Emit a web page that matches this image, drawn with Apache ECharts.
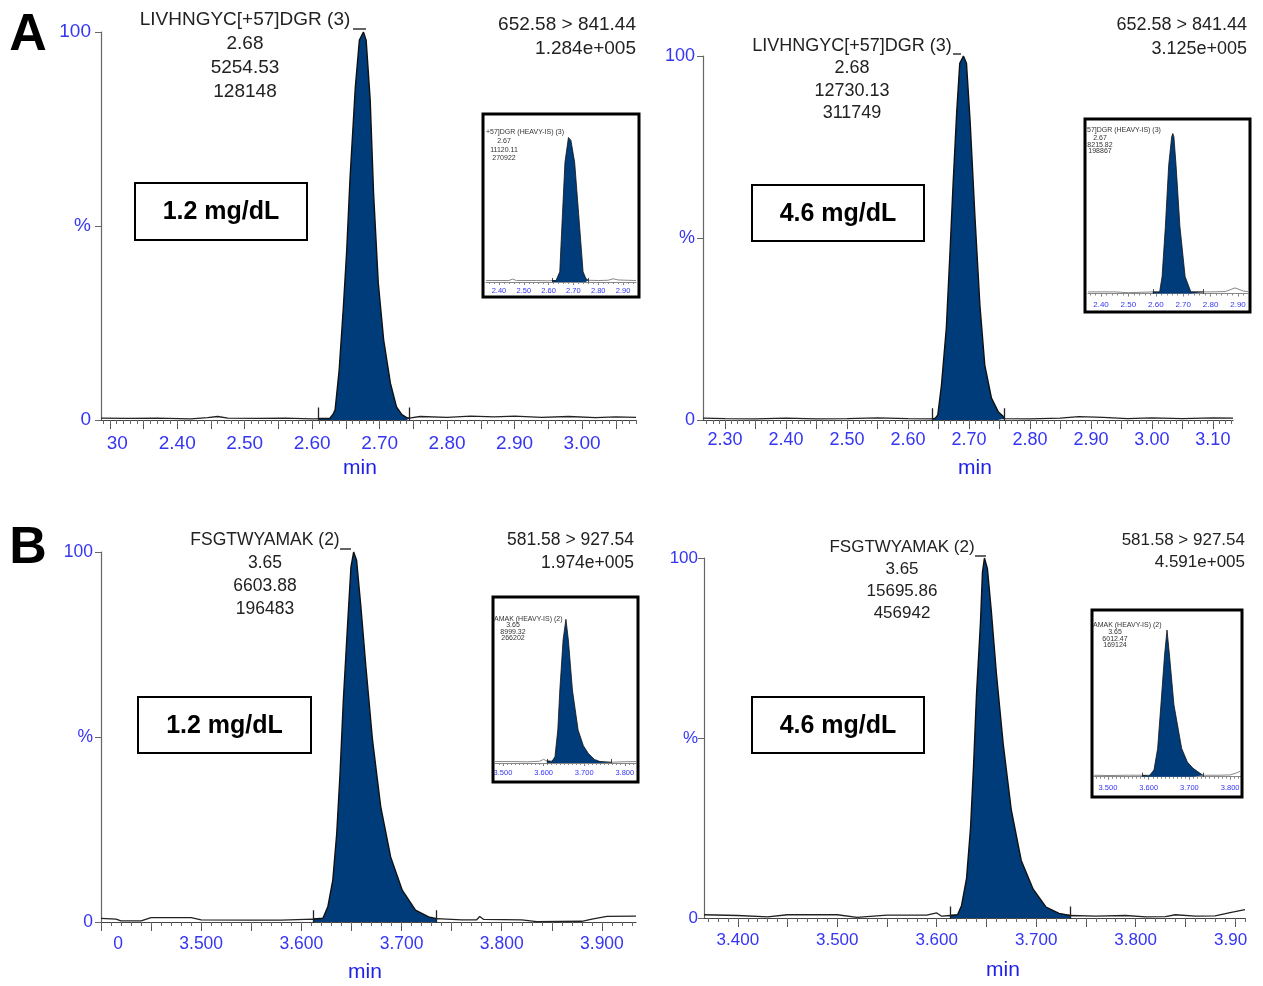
<!DOCTYPE html>
<html>
<head>
<meta charset="utf-8">
<title>MRM chromatograms</title>
<script src="https://cdn.jsdelivr.net/npm/echarts@6.0.0/dist/echarts.min.js"></script>
<style>
  html, body { margin: 0; padding: 0; background: #fff; }
  #main { width: 1263px; height: 986px; }
</style>
</head>
<body>
<div id="main"></div>
<script>
// retention time (min), relative intensity (%)
const peakA1 = [[2.609,0.4],[2.626,0.4],[2.631,1.5],[2.634,2.6],[2.640,12.9],[2.646,28.4],[2.651,43.0],[2.656,61.9],[2.664,85.9],[2.670,97.9],[2.676,100],[2.680,97.9],[2.686,82.5],[2.691,58.5],[2.698,35.3],[2.706,20.6],[2.716,9.5],[2.725,3.4],[2.733,1.4],[2.740,0.6],[2.744,0.4]];
const baseA1 = [[2.287,0.5],[2.33,0.4],[2.37,0.5],[2.42,0.3],[2.445,0.6],[2.46,0.9],[2.475,0.5],[2.52,0.4],[2.56,0.5],[2.60,0.3],[2.66,0.4],[2.70,0.9],[2.744,0.5],[2.76,0.9],[2.80,0.7],[2.835,1.0],[2.87,0.8],[2.90,1.0],[2.94,0.7],[2.98,0.9],[3.02,0.6],[3.05,0.8],[3.08,0.7]];
const cutA1 = [2.609, 2.744];

const peakA2 = [[2.640,0.3],[2.645,0.5],[2.649,1.4],[2.655,9.6],[2.663,25.3],[2.669,46.2],[2.674,64.6],[2.680,84.7],[2.685,98.0],[2.691,100],[2.696,98.0],[2.702,82.0],[2.710,55.5],[2.718,31.6],[2.726,15.1],[2.737,6.0],[2.748,2.3],[2.756,1.0],[2.758,0.4]];
const baseA2 = [[2.264,0.5],[2.30,0.4],[2.35,0.3],[2.40,0.5],[2.45,0.3],[2.50,0.4],[2.55,0.6],[2.60,0.4],[2.640,0.3],[2.70,0.6],[2.758,0.4],[2.80,0.3],[2.85,0.5],[2.88,0.9],[2.92,0.7],[2.96,0.4],[3.00,0.6],[3.05,0.4],[3.10,0.6],[3.133,0.5]];
const cutA2 = [2.640, 2.758];

const peakB1 = [[3.612,0.8],[3.6215,1.0],[3.6264,4.1],[3.6314,11.4],[3.6353,24.0],[3.6386,40.2],[3.6419,60.0],[3.6462,80.7],[3.6495,96.0],[3.6522,100],[3.6551,97.8],[3.6594,85.2],[3.6644,69.0],[3.6710,49.2],[3.6792,31.2],[3.6891,17.6],[3.7007,8.6],[3.7139,3.2],[3.7270,1.4],[3.735,0.9]];
const baseB1 = [[3.400,1.0],[3.415,0.8],[3.42,0.3],[3.44,0.3],[3.45,1.2],[3.49,1.2],[3.50,0.6],[3.55,0.5],[3.58,0.5],[3.612,0.8],[3.67,0.6],[3.735,0.9],[3.76,0.6],[3.775,0.6],[3.778,1.5],[3.782,0.7],[3.82,0.6],[3.835,0.1],[3.88,0.2],[3.89,0.8],[3.905,1.5],[3.934,1.6]];
const cutB1 = [3.612, 3.735];

const peakB2 = [[3.614,0.7],[3.621,0.9],[3.625,3.5],[3.630,11],[3.634,25],[3.637,42],[3.640,62],[3.644,82],[3.646,96],[3.648,100],[3.651,97],[3.655,85],[3.660,68],[3.667,48],[3.675,30],[3.685,16],[3.697,8],[3.710,3],[3.723,1.3],[3.734,0.7]];
const baseB2 = [[3.366,0.9],[3.40,0.7],[3.43,0.3],[3.45,0.9],[3.50,0.9],[3.52,0.2],[3.55,0.8],[3.59,0.8],[3.600,1.4],[3.605,0.5],[3.614,0.7],[3.67,0.6],[3.734,0.7],[3.76,0.5],[3.79,0.7],[3.81,0.3],[3.83,0.4],[3.84,0.9],[3.86,0.5],[3.88,0.6],[3.895,1.5],[3.910,2.3]];
const cutB2 = [3.614, 3.734];

// insets: heavy internal standard
const peakA1is = [[2.614,1],[2.630,1],[2.637,1.5],[2.645,7],[2.656,47],[2.666,82],[2.680,99],[2.686,100],[2.690,97],[2.705,82],[2.721,47],[2.739,7],[2.750,2.5],[2.759,1.2]];
const baseA1is = [[2.348,1],[2.40,1],[2.44,1],[2.455,2],[2.47,1],[2.55,1],[2.60,0.8],[2.614,1],[2.759,1.2],[2.80,1],[2.84,1.2],[2.86,2.2],[2.88,1.4],[2.952,1]];
const cutA1is = [2.614, 2.759];

const peakA2is = [[2.589,1],[2.614,1],[2.623,10.6],[2.635,42],[2.647,80],[2.658,98],[2.662,100],[2.666,98],[2.674,80],[2.688,42],[2.707,10.6],[2.728,1],[2.773,1]];
const baseA2is = [[2.353,1],[2.45,1],[2.50,0.5],[2.55,0.8],[2.589,1],[2.773,1],[2.80,1],[2.854,1.2],[2.889,3.5],[2.92,1.5],[2.936,1.2]];
const cutA2is = [2.589, 2.773];

const peakB1is = [[3.608,1.5],[3.620,0.8],[3.624,0.5],[3.628,4.4],[3.635,23],[3.640,50.8],[3.648,85.6],[3.655,100],[3.661,85.6],[3.671,50.8],[3.685,23],[3.698,12],[3.710,6.7],[3.725,2.5],[3.739,1],[3.766,0.5]];
const baseB1is = [[3.480,1],[3.52,1],[3.56,0.8],[3.59,1.2],[3.600,2.5],[3.608,1.5],[3.766,0.5],[3.79,0.8],[3.8276,1]];
const cutB1is = [3.608, 3.766];

const peakB2is = [[3.584,1],[3.601,0.5],[3.613,4.6],[3.622,19.3],[3.630,49],[3.639,83],[3.645,100],[3.651,83],[3.662,49],[3.681,19.3],[3.695,10],[3.709,5.7],[3.733,1]];
const baseB2is = [[3.466,1],[3.50,0.8],[3.55,1],[3.584,1],[3.733,1],[3.77,1],[3.80,1.2],[3.815,2.5],[3.827,4]];
const cutB2is = [3.584, 3.733];

// tick labels
const yTickLabels = ['0', '%', '100'];
const xLabelsA1 = [2.3, 2.4, 2.5, 2.6, 2.7, 2.8, 2.9, 3.0];
const xTextsA1 = ['30', '2.40', '2.50', '2.60', '2.70', '2.80', '2.90', '3.00'];
const xLabelsA2 = [2.3, 2.4, 2.5, 2.6, 2.7, 2.8, 2.9, 3.0, 3.1];
const xTextsA2 = ['2.30', '2.40', '2.50', '2.60', '2.70', '2.80', '2.90', '3.00', '3.10'];
const xLabelsB1 = [3.4, 3.5, 3.6, 3.7, 3.8, 3.9];
const xTextsB1 = ['0', '3.500', '3.600', '3.700', '3.800', '3.900'];
const xLabelsB2 = [3.4, 3.5, 3.6, 3.7, 3.8, 3.9];
const xTextsB2 = ['3.400', '3.500', '3.600', '3.700', '3.800', '3.90'];
const xLabelsAin = [2.4, 2.5, 2.6, 2.7, 2.8, 2.9];
const xTextsAin = ['2.40', '2.50', '2.60', '2.70', '2.80', '2.90'];
const xLabelsBin = [3.5, 3.6, 3.7, 3.8];
const xTextsBin = ['3.500', '3.600', '3.700', '3.800'];

// peak labels
const annA1 = ['LIVHNGYC[+57]DGR (3)', '2.68', '5254.53', '128148'];
const annA2 = ['LIVHNGYC[+57]DGR (3)', '2.68', '12730.13', '311749'];
const annB1 = ['FSGTWYAMAK (2)', '3.65', '6603.88', '196483'];
const annB2 = ['FSGTWYAMAK (2)', '3.65', '15695.86', '456942'];
const annA1is = ['+57]DGR (HEAVY-IS) (3)', '2.67', '11120.11', '270922'];
const annA2is = ['57]DGR (HEAVY-IS) (3)', '2.67', '8215.82', '198867'];
const annB1is = ['AMAK (HEAVY-IS) (2)', '3.65', '8999.32', '266202'];
const annB2is = ['AMAK (HEAVY-IS) (2)', '3.65', '6012.47', '169124'];
const transA = '652.58 > 841.44';
const transB = '581.58 > 927.54';
const intensA1 = '1.284e+005', intensA2 = '3.125e+005';
const intensB1 = '1.974e+005', intensB2 = '4.591e+005';

const font = "'Liberation Sans', Arial, sans-serif";
const blue = '#3535f2';
const navy = '#003b7a';

const panels = [
  { base: baseA1, peak: peakA1, cut: cutA1, xv: xLabelsA1, xt: xTextsA1, clip: { 0: [0, 0, 0, 15] },
    grid: [101, 32, 535, 388], x: [2.287, 3.080], fs: 19, lm: 14, ym: 10,
    ann: annA1, annX: 245, annY: [20, 44, 68, 92], dash: [353, 366, 29],
    trans: transA, intens: intensA1, tr: [636, 25, 49], conc: '1.2 mg/dL', box: [135, 183, 172, 57], minXY: [360, 468] },
  { base: baseA2, peak: peakA2, cut: cutA2, xv: xLabelsA2, xt: xTextsA2, clip: {},
    grid: [703, 56, 530, 364], x: [2.264, 3.133], fs: 18, lm: 11, ym: 8,
    ann: annA2, annX: 852, annY: [46, 68, 91, 113], dash: [953, 961, 54],
    trans: transA, intens: intensA2, tr: [1247, 25, 49], conc: '4.6 mg/dL', box: [752, 185, 172, 56], minXY: [975, 468] },
  { base: baseB1, peak: peakB1, cut: cutB1, xv: xLabelsB1, xt: xTextsB1, clip: { 0: [0, 0, 0, 34] },
    grid: [101, 552, 535, 370], x: [3.400, 3.934], fs: 17.5, lm: 13, ym: 8,
    ann: annB1, annX: 265, annY: [540, 563, 586, 609], dash: [340, 351, 549],
    trans: transB, intens: intensB1, tr: [634, 540, 563], conc: '1.2 mg/dL', box: [138, 697, 173, 56], minXY: [365, 972] },
  { base: baseB2, peak: peakB2, cut: cutB2, xv: xLabelsB2, xt: xTextsB2, clip: { 5: [0, 9, 0, 0] },
    grid: [704, 558, 541, 360], x: [3.366, 3.910], fs: 17, lm: 14, ym: 6,
    ann: annB2, annX: 902, annY: [547, 569, 591, 613], dash: [975, 986, 556],
    trans: transB, intens: intensB2, tr: [1245, 540, 562], conc: '4.6 mg/dL', box: [752, 697, 172, 56], minXY: [1003, 970] }
];

const insets = [
  { base: baseA1is, peak: peakA1is, cut: cutA1is, xv: xLabelsAin, xt: xTextsAin, minor: 0.02,
    grid: [486, 136, 150, 146], x: [2.3476, 2.9524], fs: 7.5, lm: 5,
    frame: [483, 114, 156, 183], ann: annA1is, annL: [486, 132], annC: 504, annY: [141, 150, 158] },
  { base: baseA2is, peak: peakA2is, cut: cutA2is, xv: xLabelsAin, xt: xTextsAin, minor: 0.02,
    grid: [1088, 133.5, 160, 160], x: [2.3526, 2.9365], fs: 8, lm: 7,
    frame: [1085, 119, 165, 193], ann: annA2is, annL: [1087, 130], annC: 1100, annY: [138, 145, 151] },
  { base: baseB1is, peak: peakB1is, cut: cutB1is, xv: xLabelsBin, xt: xTextsBin, minor: 0.01,
    grid: [495, 619.3, 141, 143.7], x: [3.4803, 3.8276], fs: 7.5, lm: 6,
    frame: [493, 597, 145, 185], ann: annB1is, annL: [494, 619], annC: 513, annY: [625, 632, 638.5] },
  { base: baseB2is, peak: peakB2is, cut: cutB2is, xv: xLabelsBin, xt: xTextsBin, minor: 0.01,
    grid: [1094, 630, 147, 146.7], x: [3.4656, 3.8268], fs: 7.5, lm: 7,
    frame: [1092, 610, 150, 187], ann: annB2is, annL: [1093, 625], annC: 1115, annY: [632.5, 639, 645.5] }
];

function steps(lo, hi, step) {
  const out = [];
  for (let k = Math.ceil(lo / step - 1e-9); k * step <= hi + 1e-9; k++) out.push(+(k * step).toFixed(4));
  return out;
}

const grid = [], xAxis = [], yAxis = [], series = [], graphic = [];

function txt(x, y, s, size, align, opts) {
  opts = opts || {};
  return { type: 'text', x: x, y: y, z: 20,
    style: { text: s, fontSize: size, fontFamily: font, fontWeight: opts.bold ? 'bold' : 'normal',
      fill: opts.color || '#222', align: align, verticalAlign: 'middle' } };
}

function addPlot(p, inset) {
  const gi = grid.length;
  grid.push({ left: p.grid[0], top: p.grid[1], width: p.grid[2], height: p.grid[3] });
  const common = { type: 'value', gridIndex: gi, position: 'bottom', min: p.x[0], max: p.x[1], splitLine: { show: false } };
  const rich = {};
  Object.keys(p.clip || {}).forEach(function (i) {
    rich['c' + i] = { padding: p.clip[i], color: blue, fontSize: p.fs, fontFamily: font };
  });
  const xi = xAxis.length;
  xAxis.push(Object.assign({}, common, {
    axisLine: { show: true, onZero: false, lineStyle: { color: inset ? '#888' : '#444', width: inset ? 1 : 1.2 } },
    axisTick: { show: true, customValues: steps(p.x[0], p.x[1], inset ? 0.1 : 0.05), length: inset ? 3 : 9,
      lineStyle: { color: inset ? '#777' : '#555', width: 1 } },
    axisLabel: { show: true, customValues: p.xv, color: blue, fontSize: p.fs, fontFamily: font, margin: p.lm, rich: rich,
      formatter: function (v) {
        const i = p.xv.findIndex(function (u) { return Math.abs(u - v) < 1e-6; });
        if (i < 0) return '';
        return p.clip && p.clip[i] ? '{c' + i + '|' + p.xt[i] + '}' : p.xt[i];
      } }
  }));
  xAxis.push(Object.assign({}, common, {
    axisLine: { show: false, onZero: false },
    axisTick: { show: true, customValues: steps(p.x[0], p.x[1], inset ? p.minor : 0.01), length: inset ? 2 : 4,
      lineStyle: { color: inset ? '#888' : '#666', width: 1 } },
    axisLabel: { show: false }
  }));
  const yi = yAxis.length;
  yAxis.push(inset
    ? { type: 'value', gridIndex: gi, min: 0, max: 100, show: false }
    : { type: 'value', gridIndex: gi, min: 0, max: 100, interval: 50, splitLine: { show: false },
        axisLine: { show: true, lineStyle: { color: '#666', width: 1.2 } },
        axisTick: { show: true, length: 6, lineStyle: { color: '#666' } },
        axisLabel: { color: blue, fontSize: p.fs, fontFamily: font, margin: p.ym,
          formatter: function (v) { return yTickLabels[Math.round(v / 50)]; } } });

  series.push({ type: 'line', xAxisIndex: xi, yAxisIndex: yi, data: p.base, symbol: 'none', z: 2,
    lineStyle: { color: inset ? '#888' : '#222', width: inset ? 1 : 1.3 } });
  series.push({ type: 'line', xAxisIndex: xi, yAxisIndex: yi, data: p.peak, symbol: 'none', z: 3,
    lineStyle: { color: '#111', width: inset ? 0.8 : 1.4 },
    areaStyle: { color: navy, opacity: 1, origin: 'start' } });
  series.push({ type: 'lines', coordinateSystem: 'cartesian2d', xAxisIndex: xi, yAxisIndex: yi, z: 4,
    data: p.cut.map(function (t) { return { coords: [[t, -0.3], [t, inset ? 2.8 : 3.2]] }; }),
    lineStyle: { color: '#222', width: inset ? 0.8 : 1.3, opacity: 1 } });
}

panels.forEach(function (p) {
  addPlot(p, false);
  p.ann.forEach(function (s, i) { graphic.push(txt(p.annX, p.annY[i], s, p.fs, 'center')); });
  graphic.push({ type: 'line', z: 20, shape: { x1: p.dash[0], y1: p.dash[2], x2: p.dash[1], y2: p.dash[2] },
    style: { stroke: '#333', lineWidth: 1.5 } });
  graphic.push(txt(p.tr[0], p.tr[1], p.trans, p.fs, 'right'));
  graphic.push(txt(p.tr[0], p.tr[2], p.intens, p.fs, 'right'));
  graphic.push({ type: 'rect', z: 15, shape: { x: p.box[0], y: p.box[1], width: p.box[2], height: p.box[3] },
    style: { fill: '#fff', stroke: '#000', lineWidth: 2 } });
  graphic.push(txt(p.box[0] + p.box[2] / 2, p.box[1] + p.box[3] / 2 + 1, p.conc, 25, 'center', { bold: true, color: '#000' }));
  graphic.push(txt(p.minXY[0], p.minXY[1], 'min', 21, 'center', { color: '#2020e8' }));
});

insets.forEach(function (p) {
  addPlot(p, true);
  graphic.push({ type: 'rect', z: 1, shape: { x: p.frame[0], y: p.frame[1], width: p.frame[2], height: p.frame[3] },
    style: { fill: null, stroke: '#000', lineWidth: 3 } });
  graphic.push(txt(p.annL[0], p.annL[1], p.ann[0], 7, 'left', { color: '#333' }));
  for (let i = 1; i < 4; i++) graphic.push(txt(p.annC, p.annY[i - 1], p.ann[i], 7, 'center', { color: '#333' }));
});

graphic.push(txt(28, 36, 'A', 52, 'center', { bold: true, color: '#000' }));
graphic.push(txt(28, 549, 'B', 52, 'center', { bold: true, color: '#000' }));

const chart = echarts.init(document.getElementById('main'), null, { renderer: 'canvas' });
chart.setOption({
  animation: false,
  backgroundColor: '#fff',
  grid: grid,
  xAxis: xAxis,
  yAxis: yAxis,
  series: series,
  graphic: { elements: graphic }
});
</script>
</body>
</html>
